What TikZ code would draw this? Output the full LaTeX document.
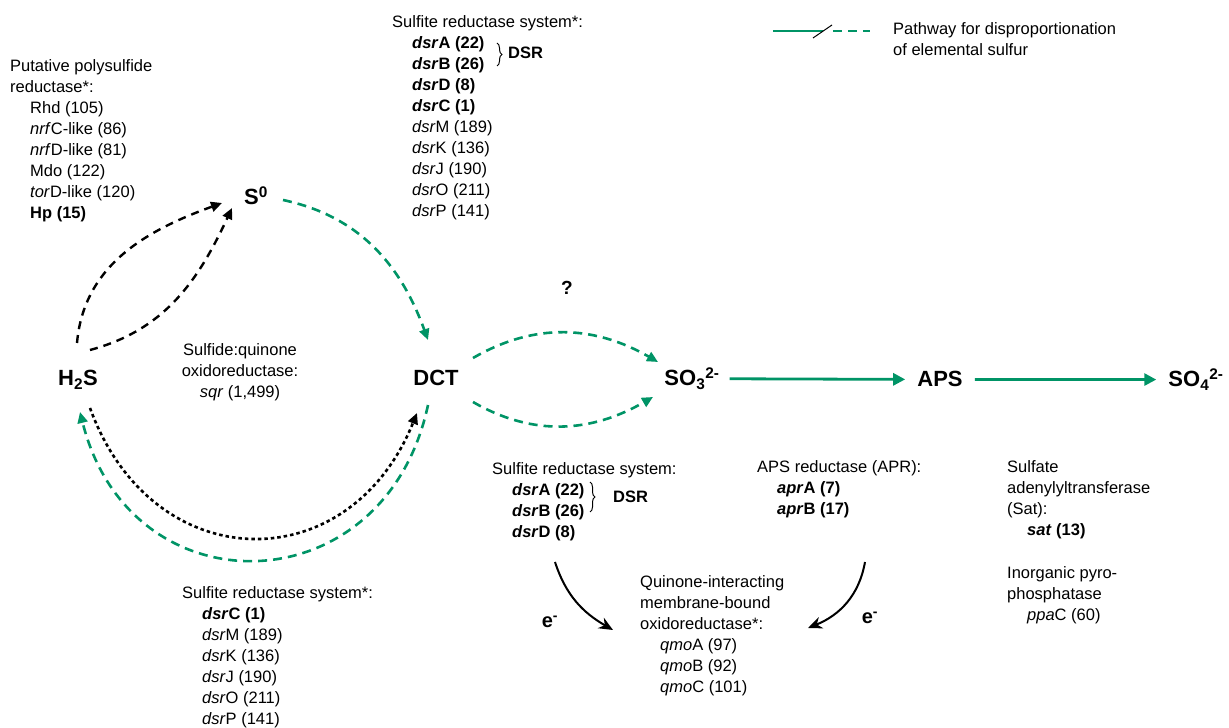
\documentclass[tikz,border=0pt]{standalone}
\usepackage{fontspec}
\setmainfont{Liberation Sans}
\usepackage{tikz}
\usetikzlibrary{arrows.meta, decorations.pathreplacing, positioning}
\definecolor{sgreen}{RGB}{0,148,102}
\newcommand{\ind}{\hspace*{20pt}}

\begin{document}
\begin{tikzpicture}[x=1pt, y=1pt,
    species/.style={font=\fontsize{22}{24}\selectfont\bfseries, inner sep=2pt, anchor=base},
    info/.style={font=\fontsize{16.5}{21}\selectfont, align=left, anchor=north west, inner sep=0pt},
    greendash/.style={sgreen, line width=2.6pt, dash pattern=on 9pt off 6pt, -{Triangle[length=11pt,width=10pt]}},
    blackdash/.style={black, line width=2.4pt, dash pattern=on 8pt off 6pt, -{Triangle[length=11pt,width=10pt]}},
    blackdot/.style={black, line width=2.6pt, dash pattern=on 3.5pt off 3pt, -{Triangle[length=11pt,width=10pt]}},
    solidflow/.style={sgreen, line width=2.8pt, -{Triangle[length=12pt,width=12pt]}},
    electron/.style={black, line width=2pt, -{Stealth[length=14pt,width=12pt]}},
    dsrbrace/.style={decorate, decoration={brace, amplitude=5pt}, line width=1pt}
  ]
  \useasboundingbox (0,0) rectangle (1229,728);

  % sulfur species
  \node[species] (h2s) at (78,342) {H\textsubscript{2}S};
  \node[species] (szero) at (256,523) {S\textsuperscript{0}};
  \node[species] (dct) at (436,342) {DCT};
  \node[species] (sulfite) at (692,342) {SO\textsubscript{3}\textsuperscript{2-}};
  \node[species] (aps) at (940,341) {APS};
  \node[species] (sulfate) at (1196,341) {SO\textsubscript{4}\textsuperscript{2-}};

  % enzyme lists
  \node[info] (psr) at (10,669) {Putative polysulfide\\
    reductase*:\\
    \ind Rhd (105)\\
    \ind \textit{nrf}C-like (86)\\
    \ind \textit{nrf}D-like (81)\\
    \ind Mdo (122)\\
    \ind \textit{tor}D-like (120)\\
    \ind \textbf{Hp (15)}};
  \node[info] (dsrtop) at (392,713) {Sulfite reductase system*:\\
    \ind \textbf{\textit{dsr}A (22)}\\
    \ind \textbf{\textit{dsr}B (26)}\\
    \ind \textbf{\textit{dsr}D (8)}\\
    \ind \textbf{\textit{dsr}C (1)}\\
    \ind \textit{dsr}M (189)\\
    \ind \textit{dsr}K (136)\\
    \ind \textit{dsr}J (190)\\
    \ind \textit{dsr}O (211)\\
    \ind \textit{dsr}P (141)};
  \node[info, align=center, anchor=north] (sqr) at (240,385) {Sulfide:quinone\\
    oxidoreductase:\\
    \textit{sqr} (1,499)};
  \node[info] (dsrmid) at (492,266) {Sulfite reductase system:\\
    \ind \textbf{\textit{dsr}A (22)}\\
    \ind \textbf{\textit{dsr}B (26)}\\
    \ind \textbf{\textit{dsr}D (8)}};
  \node[info] (apr) at (757,268) {APS reductase (APR):\\
    \ind \textbf{\textit{apr}A (7)}\\
    \ind \textbf{\textit{apr}B (17)}};
  \node[info] (sat) at (1007,268) {Sulfate\\
    adenylyltransferase\\
    (Sat):\\
    \ind \textbf{\textit{sat} (13)}\\[22pt]
    Inorganic pyro-\\
    phosphatase\\
    \ind \textit{ppa}C (60)};
  \node[info] (qmo) at (640,153) {Quinone-interacting\\
    membrane-bound\\
    oxidoreductase*:\\
    \ind \textit{qmo}A (97)\\
    \ind \textit{qmo}B (92)\\
    \ind \textit{qmo}C (101)};
  \node[info] (dsrlow) at (182,142) {Sulfite reductase system*:\\
    \ind \textbf{\textit{dsr}C (1)}\\
    \ind \textit{dsr}M (189)\\
    \ind \textit{dsr}K (136)\\
    \ind \textit{dsr}J (190)\\
    \ind \textit{dsr}O (211)\\
    \ind \textit{dsr}P (141)};

  % DSR braces
  \draw[dsrbrace] (497,685) -- (497,662);
  \node[info, font=\fontsize{16.5}{21}\selectfont\bfseries, anchor=west] (dsrlabtop) at (508,675) {DSR};
  \draw[dsrbrace] (590,246) -- (590,216);
  \node[info, font=\fontsize{16.5}{21}\selectfont\bfseries, anchor=west] (dsrlabmid) at (613,231) {DSR};

  % legend
  \node[info] (legtext) at (893,706) {Pathway for disproportionation\\
    of elemental sulfur};
  \draw[sgreen, line width=2.6pt] (773,697) -- (823,697);
  \draw[sgreen, line width=2.6pt, dash pattern=on 9pt off 6pt] (833,697) -- (870,697);
  \draw[black, line width=1pt] (813,690) -- (832,703);

  % pathways
  \draw[blackdash] ([shift={(-1,43)}]h2s.base) to[out=85,in=-160] ([shift={(-34,2)}]szero.base);
  \draw[blackdash] ([shift={(12,36)}]h2s.base) to[out=15,in=-115] ([shift={(-24,-3)}]szero.base);
  \draw[greendash] ([shift={(27,5)}]szero.base) to[out=-12,in=110] ([shift={(-8,46)}]dct.base);
  \draw[greendash] ([shift={(37,28)}]dct.base) to[out=30,in=150] ([shift={(-34,24)}]sulfite.base);
  \draw[greendash] ([shift={(37,-16)}]dct.base) to[out=-30,in=-150] ([shift={(-39,-11)}]sulfite.base);
  \draw[blackdot] ([shift={(12,-22)}]h2s.base) to[out=-70,in=-112,looseness=1.42] ([shift={(-19,-27)}]dct.base);
  \draw[greendash] ([shift={(-8,-19)}]dct.base) to[out=-102,in=-76,looseness=1.52] ([shift={(2,-26)}]h2s.base);
  \draw[solidflow, shorten <=8pt, shorten >=10pt] (sulfite.east) -- (aps.west);
  \draw[solidflow, shorten <=10pt, shorten >=10pt] (aps.east) -- (sulfate.west);
  \node[species, font=\fontsize{19}{21}\selectfont\bfseries] (quest) at (567,433) {?};

  % electron transfer
  \coordinate (ea) at (555,166);
  \coordinate (eb) at (613,98);
  \coordinate (ec) at (865,166);
  \coordinate (ed) at (808,100);
  \draw[electron] (ea) to[out=-72,in=150] (eb);
  \draw[electron] (ec) to[out=-100,in=22] (ed);
  \node[species, font=\fontsize{20}{22}\selectfont\bfseries] (eleft) at (550,100) {e\textsuperscript{-}};
  \node[species, font=\fontsize{20}{22}\selectfont\bfseries] (eright) at (870,104) {e\textsuperscript{-}};
\end{tikzpicture}
\end{document}
